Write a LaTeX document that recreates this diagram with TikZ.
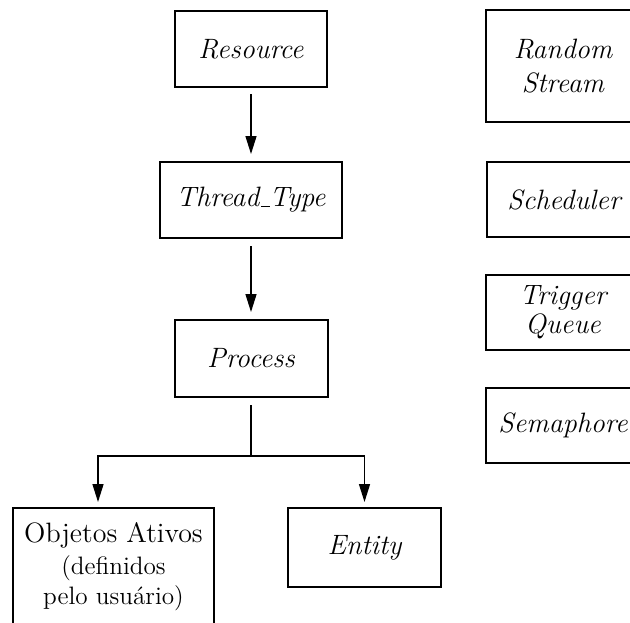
\documentclass[tikz,border=0pt]{standalone}
\usepackage{fontspec}
\usetikzlibrary{arrows.meta}
% short baseline underscore, as in classic LaTeX
\newcommand{\lowbar}{\leavevmode\kern.06em\vbox{\hrule width.3em height.5pt}}
\begin{document}
\begin{tikzpicture}[x=0.5pt,y=-0.5pt,
  box/.style={draw,line width=1pt,inner sep=0pt,align=center,
    font=\fontsize{14}{16}\selectfont\itshape},
  link/.style={line width=0.7pt},
  arr/.style={link,-{Triangle[length=9pt,width=5.5pt]}}]
\useasboundingbox (0,0) rectangle (630,622);
\clip (0,0) rectangle (630,622);

% main chain
\node[box,minimum width=76pt,minimum height=38pt] (res) at (251,49) {Resource};
\node[box,minimum width=91pt,minimum height=38pt] (thr) at (251,200) {Thread\lowbar Type};
\node[box,minimum width=76.5pt,minimum height=38.5pt] (proc) at (251,358.5) {Process};
\node[box,minimum width=100.5pt,minimum height=59pt,
      font=\fontsize{12.6}{15}\selectfont] (obj) at (113.5,567)
  {{\fontsize{14}{16}\selectfont Objetos Ativos}\\[1pt](definidos\\pelo usuário)};
\node[box,minimum width=76.5pt,minimum height=39.5pt] (ent) at (364.5,547.5) {Entity};

% stand-alone classes
\node[box,minimum width=77pt,minimum height=56pt,
      font=\fontsize{14}{17}\selectfont\itshape] (rnd) at (563,66) {Random\\Stream};
\node[box,minimum width=77pt,minimum height=37.5pt] (sch) at (564,199.5) {Scheduler};
\node[box,minimum width=77pt,minimum height=37.5pt,
      font=\fontsize{14}{14.5}\selectfont\itshape] (trg) at (563,312.5) {Trigger\\Queue};
\node[box,minimum width=77pt,minimum height=37.5pt] (sem) at (563,425.5) {Semaphore};

% connectors
\coordinate (split) at (251,456);
\draw[arr,shorten <=3pt,shorten >=3.5pt] (res) -- (thr);
\draw[arr,shorten <=3.5pt,shorten >=3.5pt] (thr) -- (proc);
\draw[link,shorten <=3.5pt] (proc) -- (split);
\draw[arr,shorten >=2.5pt] (split) -| ([xshift=-7.75pt]obj.north);
\draw[arr,shorten >=2.5pt] (split) -| (ent.north);
\end{tikzpicture}
\end{document}
